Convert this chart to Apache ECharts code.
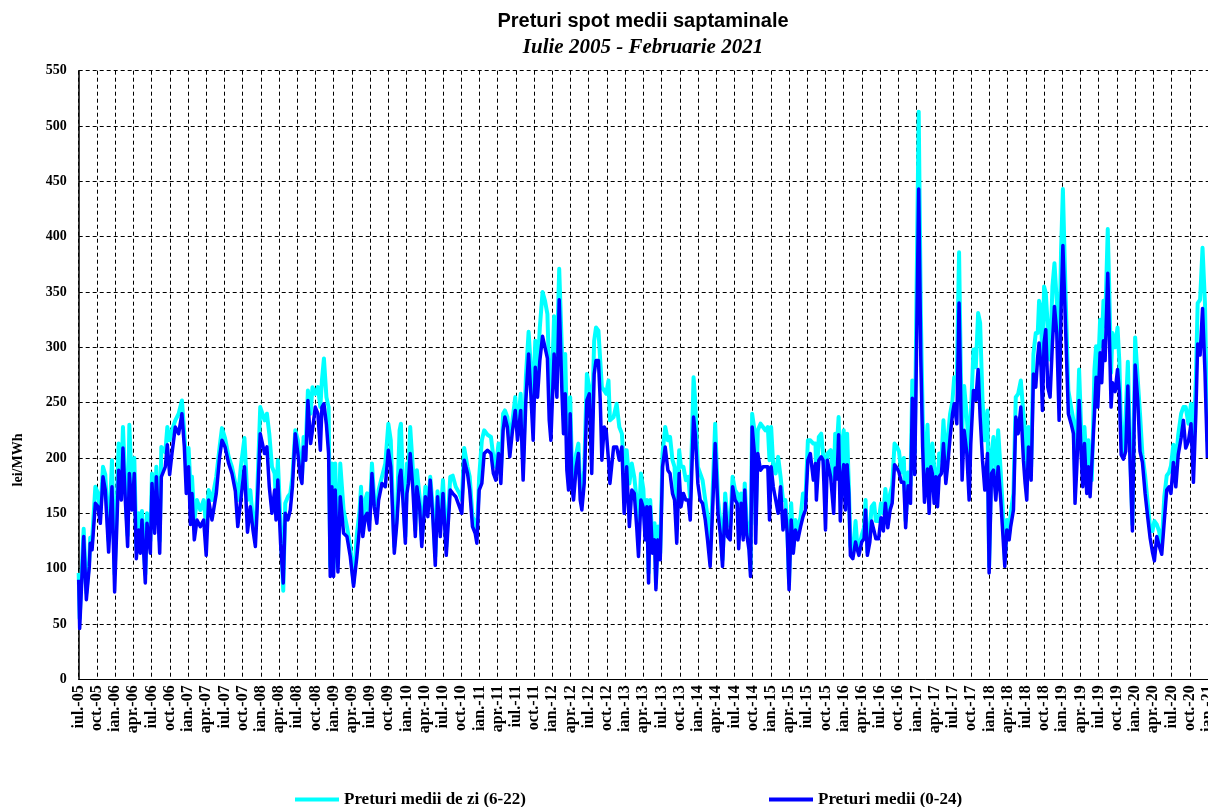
<!DOCTYPE html>
<html><head><meta charset="utf-8">
<script src="https://cdn.jsdelivr.net/npm/echarts@6/dist/echarts.min.js"></script>
<style>html,body{margin:0;padding:0;background:#fff;overflow:hidden}#c{width:1208px;height:807px}</style>
</head><body><div id="c"></div>
<script>
// months since July 2005
const t = [
0,0.16,0.82,1.26,1.75,1.9,2.2,2.74,3.18,3.56,4.0,4.38,4.93,5.48,5.92,6.58,7.02,7.29,7.68,8.06,8.34,8.78,9.16,9.49,9.87,10.15,10.42,10.97,11.25,11.8,12.07,12.51,12.79,13.34,13.61,14.26,14.6,14.98,15.36,15.91,16.46,17.0,17.4,17.72,18.1,18.4,18.66,19.04,19.48,20.03,20.58,21.0,21.4,21.95,22.66,23.21,23.6,24.1,24.7,25.24,25.8,26.2,26.7,27.3,27.8,28.26,28.7,29.1,29.36,29.9,
30.2,30.62,31.0,31.39,31.83,32.27,32.5,32.8,33.25,33.69,34.02,34.46,34.85,35.2,35.67,36.1,36.5,36.77,37.04,37.4,37.75,38.2,38.5,38.96,39.4,39.8,40.06,40.39,40.8,41.16,41.43,41.7,41.98,42.25,42.7,43.08,43.63,44.18,44.73,45.27,45.8,46.27,46.5,46.8,47.2,47.5,47.9,48.3,48.68,49.1,49.4,49.95,50.5,51.0,51.4,51.98,52.4,52.85,53.07,53.4,53.8,54.06,54.3,54.6,55.05,55.44,55.7,56.15,56.5,57.1,57.5,57.9,58.35,58.73,59.1,59.55,60.0,60.54,61.2,
61.6,62.1,62.7,63.1,63.5,64.04,64.4,64.86,65.3,65.58,65.96,66.4,66.78,67.33,67.9,68.3,68.7,69.15,69.53,69.9,70.2,70.6,71.0,71.45,71.9,72.27,72.8,73.2,73.65,74.1,74.47,74.85,75.2,75.57,75.95,76.4,76.8,77.2,77.5,77.77,78.3,78.76,79.14,79.58,79.85,80.13,80.4,80.68,80.95,81.23,81.5,81.94,82.3,82.6,82.87,83.26,83.7,84.1,84.5,84.9,85.2,85.6,85.9,86.17,86.55,86.88,87.26,87.5,88.1,88.6,89.04,89.46,89.84,90.25,90.7,91.1,91.5,91.9,92.2,92.6,93.0,
93.3,93.58,93.86,94.13,94.5,94.85,95.07,95.4,95.78,96.16,96.6,97.04,97.4,97.8,98.14,98.5,98.9,99.2,99.6,100.0,100.4,100.72,101.0,101.27,101.54,101.98,102.36,102.75,103.2,103.57,104.0,104.4,104.83,105.3,105.66,106.04,106.48,106.87,107.3,107.7,108.1,108.45,108.7,109.1,109.45,109.7,110.0,110.4,110.65,110.92,111.3,111.5,111.85,112.3,112.7,113.1,113.5,113.78,114.05,114.4,114.8,115.2,115.6,116.0,116.4,116.7,117.0,117.35,117.7,118.05,118.45,118.9,119.3,119.7,120.1,120.5,121.0,121.35,121.5,121.9,122.3,122.6,123.0,123.3,123.85,124.35,
124.6,124.9,125.16,125.44,125.72,126.0,126.28,126.56,126.84,127.1,127.5,127.95,128.2,128.5,128.96,129.35,129.6,129.9,130.3,130.6,131.0,131.3,131.75,132.14,132.53,132.86,133.26,133.65,133.98,134.37,134.76,135.1,135.5,135.9,136.2,136.6,137.0,137.3,137.7,138.0,138.35,138.7,139.0,139.3,139.8,140.07,140.35,140.6,140.9,141.17,141.45,141.72,142.1,142.43,142.82,143.1,143.53,143.92,144.2,144.63,145.0,145.3,145.5,145.84,146.28,146.66,146.93,147.37,147.76,148.14,148.47,148.86,149.24,149.68,149.95,150.34,150.67,151.05,151.44,151.87,152.2,152.53,152.86,153.25,153.5,153.96,154.34,154.73,155.17,
155.6,155.88,156.15,156.43,156.87,157.25,157.63,157.96,158.18,158.5,158.73,159.0,159.28,159.61,159.99,160.38,160.71,161.09,161.48,161.8,162.1,162.57,163.0,163.45,163.84,164.1,164.4,164.77,165.1,165.37,165.65,166.03,166.3,166.58,166.86,167.3,167.57,167.85,168.23,168.5,168.78,169.05,169.49,169.71,170.04,170.26,170.7,171.1,171.4,171.7,172.07,172.45,172.8,173.2,173.55,174.0,174.43,174.8,175.2,175.64,176.08,176.46,176.85,177.17,177.56,177.94,178.38,178.8,179.2,179.59,179.9,180.3,180.7,181.1,181.57,181.95,182.33,182.77,183.2,183.6,184.0,184.3,184.7,185.1,185.5,185.9
];
// Preturi medii (0-24), lei/MWh
const med = [
90,46,129,72,102,123,117,159,156,141,183,171,115,174,79,189,162,209,162,120,186,153,186,109,135,114,144,87,141,114,177,132,183,114,183,192,212,185,204,228,222,240,210,168,192,140,168,126,144,138,144,112,162,144,168,201,216,210,195,186,170,138,162,192,133,156,135,120,150,222,
222,204,210,174,150,171,144,180,123,87,150,144,153,174,222,204,183,177,210,198,252,213,225,246,240,207,246,249,230,204,93,174,93,171,97,165,132,129,111,84,110,138,165,129,147,150,135,186,156,141,162,177,174,207,192,114,141,183,189,162,123,168,177,204,171,129,174,156,120,165,147,180,144,103,165,129,168,112,171,
168,165,156,150,198,186,171,138,132,123,171,177,204,207,204,186,180,204,177,225,237,228,201,225,243,216,243,180,252,294,258,216,282,255,288,310,300,290,234,216,294,255,343,261,222,258,189,171,240,174,162,192,204,162,153,177,252,258,186,276,288,288,252,198,228,225,198,177,210,210,198,210,150,192,138,171,168,138,111,162,155,
126,156,87,156,114,126,81,126,108,192,210,189,186,168,162,123,186,156,168,162,162,144,192,237,222,177,162,159,144,126,102,153,213,150,132,102,159,129,126,174,162,159,118,159,126,171,132,117,93,228,204,123,204,189,192,192,192,144,192,174,162,150,174,135,153,132,81,144,114,135,126,138,147,153,198,204,180,195,162,198,201,198,135,198,183,150,
191,181,221,143,181,194,153,194,168,112,109,124,118,112,124,127,153,112,124,143,134,127,127,146,134,159,137,153,159,194,191,187,178,178,137,175,159,254,185,300,443,290,210,160,190,150,192,186,159,183,156,183,186,213,177,192,219,240,249,231,340,246,180,225,204,162,213,261,252,280,237,198,171,204,96,186,189,162,192,162,132,102,135,126,138,153,237,222,246,
198,177,162,210,180,276,264,292,304,282,243,304,316,264,255,304,337,313,234,334,392,313,240,231,222,159,192,252,204,174,213,168,192,165,165,240,273,246,295,268,306,288,367,322,246,268,260,280,259,203,199,206,265,190,134,284,252,206,196,168,146,128,115,107,129,121,113,143,171,174,168,196,174,203,218,234,209,215,231,178,240,303,293,335,278,200
];
// Preturi medii de zi (6-22), lei/MWh
const zi = [
96,55,136,78,108,128,125,174,168,150,192,185,125,198,95,213,180,228,175,130,230,170,200,120,150,125,152,95,150,125,186,145,192,125,210,205,228,216,225,234,240,252,222,192,209,175,183,144,162,153,162,138,171,162,183,210,227,218,201,192,177,162,192,218,162,171,144,138,162,246,
245,234,240,222,192,186,156,198,141,80,159,165,168,183,225,216,192,183,219,210,261,240,264,258,264,246,270,290,255,246,102,195,100,195,105,195,153,138,120,87,130,153,174,135,162,168,144,195,162,150,171,183,195,231,216,120,150,225,231,174,129,195,189,228,189,135,189,165,126,174,156,183,153,111,170,144,180,120,183,
184,174,168,162,209,192,183,147,141,132,183,216,225,221,219,201,192,213,186,240,243,237,216,234,255,225,258,195,273,314,282,252,306,276,318,350,342,330,270,240,328,292,371,298,252,294,228,195,255,195,180,204,213,174,168,189,276,264,222,306,318,315,288,264,261,258,270,234,237,249,228,222,189,207,177,195,183,162,132,186,172,
135,162,96,162,123,141,87,138,114,204,228,216,219,198,192,144,207,192,192,180,183,162,216,273,252,192,186,180,162,147,114,168,231,162,144,108,168,144,138,183,171,168,140,168,138,177,144,132,99,240,225,140,225,231,228,225,228,198,228,192,186,201,183,162,162,138,87,159,120,144,135,147,168,162,216,216,213,213,177,219,222,222,177,204,207,180,
222,213,237,175,210,225,191,222,175,121,112,143,124,118,130,137,162,115,134,156,159,143,143,159,150,172,150,168,175,213,210,206,187,200,143,187,175,270,205,350,513,330,240,175,230,185,198,213,192,186,171,204,198,234,192,216,240,252,273,273,386,273,222,265,237,200,237,298,282,331,322,252,216,243,102,204,219,186,225,186,153,108,144,132,150,168,255,258,270,
240,222,186,228,192,294,313,313,342,334,282,355,349,319,289,355,376,342,282,388,443,342,261,246,234,180,216,280,228,210,228,192,216,186,180,280,301,273,325,301,342,319,407,358,277,313,300,318,287,221,203,240,287,203,140,309,271,240,203,184,159,137,134,143,140,134,121,165,184,187,193,212,196,221,240,246,246,231,249,209,271,340,343,390,340,215
];
const quarterNames = {0:'ian.', 3:'apr.', 6:'iul.', 9:'oct.'};
const startYear = 2005, startMonth = 6; // July
const seriesNames = ['Preturi medii de zi (6-22)', 'Preturi medii (0-24)'];

const n = Math.min(t.length, med.length, zi.length);
const ziData = [], medData = [];
for (let i = 0; i < n; i++) { ziData.push([t[i], zi[i]]); medData.push([t[i], med[i]]); }

const serif = '"Liberation Serif","Times New Roman",serif';
const chart = echarts.init(document.getElementById('c'), null, {renderer:'canvas'});
chart.setOption({
  animation: false,
  backgroundColor: '#fff',
  grid: {left: 78.7, top: 70.7, right: 0, bottom: 127.7, containLabel: false, outerBoundsMode: 'none'},
  xAxis: {
    type: 'value', min: 0, max: 186, interval: 3,
    axisLine: {show: true, onZero: false, lineStyle: {color: '#000', width: 1}},
    axisTick: {show: false},
    splitLine: {show: true, lineStyle: {color: '#000', type: [4, 3], width: 1}},
    axisLabel: {
      rotate: 90, margin: 6, color: '#000', fontFamily: serif, fontWeight: 'bold', fontSize: 16,
      showMaxLabel: true, hideOverlap: false,
      formatter: function (v) {
        const k = Math.round(v) + startMonth;
        const mo = k % 12;
        const yr = startYear + Math.floor(k / 12);
        return (quarterNames[mo] || '') + '-' + String(yr % 100).padStart(2, '0');
      }
    }
  },
  yAxis: {
    type: 'value', min: 0, max: 550, interval: 50,
    axisLine: {show: true, lineStyle: {color: '#000', width: 1.5}},
    axisTick: {show: false},
    splitLine: {show: true, lineStyle: {color: '#000', type: [4, 3], width: 1}},
    axisLabel: {color: '#000', fontFamily: serif, fontWeight: 'bold', fontSize: 14, margin: 12}
  },
  legend: [
    {data: [seriesNames[0]], left: 290, top: 786, icon: 'rect', itemWidth: 44, itemHeight: 4, itemGap: 0,
     textStyle: {color: '#000', fontFamily: serif, fontWeight: 'bold', fontSize: 17}},
    {data: [seriesNames[1]], left: 764, top: 786, icon: 'rect', itemWidth: 44, itemHeight: 4, itemGap: 0,
     textStyle: {color: '#000', fontFamily: serif, fontWeight: 'bold', fontSize: 17}}
  ],
  graphic: [
    {type: 'text', x: 643, y: 11, style: {text: 'Preturi spot medii saptaminale', textAlign: 'center', fill: '#000',
      font: 'bold 20px "Liberation Sans", Arial, sans-serif'}},
    {type: 'text', x: 643, y: 37, style: {text: 'Iulie 2005 - Februarie 2021', textAlign: 'center', fill: '#000',
      font: 'italic bold 21px "Liberation Serif", "Times New Roman", serif'}},
    {type: 'text', x: 11, y: 460, rotation: Math.PI / 2, style: {text: 'lei/MWh', textAlign: 'center', textVerticalAlign: 'top', fill: '#000',
      font: 'bold 14px "Liberation Serif", "Times New Roman", serif'}}
  ],
  series: [
    {name: seriesNames[0], type: 'line', data: ziData, showSymbol: false, symbol: 'none', z: 2,
     lineStyle: {color: '#00FFFF', width: 4, join: 'round'}, itemStyle: {color: '#00FFFF'}},
    {name: seriesNames[1], type: 'line', data: medData, showSymbol: false, symbol: 'none', z: 3,
     lineStyle: {color: '#0000FF', width: 3.5, join: 'round'}, itemStyle: {color: '#0000FF'}}
  ]
});
</script>
</body></html>
